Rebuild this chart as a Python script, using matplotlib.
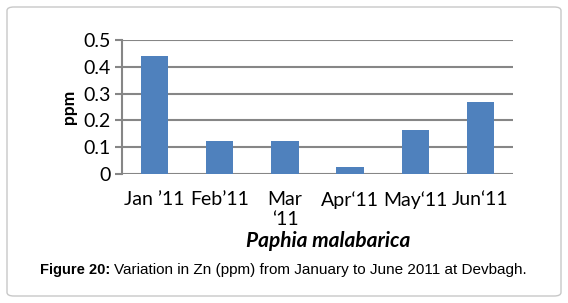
import matplotlib.pyplot as plt
from matplotlib.patches import FancyBboxPatch

months = ['Jan \u201911', 'Feb\u201911', 'Mar\n\u201811', 'Apr\u201811', 'May\u201811', 'Jun\u201811']
zn_ppm = [0.44, 0.125, 0.125, 0.025, 0.165, 0.27]
y_ticks = [0, 0.1, 0.2, 0.3, 0.4, 0.5]
y_labels = ['0', '0.1', '0.2', '0.3', '0.4', '0.5']

fig = plt.figure(figsize=(5.68, 3.03), dpi=100)

# outer rounded frame
frame = FancyBboxPatch((7 / 568, 7 / 303), 554 / 568, 289 / 303,
                       boxstyle='round,pad=0,rounding_size=0.012',
                       transform=fig.transFigure, fill=False,
                       edgecolor='#c8c8c8', linewidth=1.0)
fig.patches.append(frame)

ax = fig.add_axes([122 / 568, 1 - 174 / 303, (513 - 122) / 568, (174 - 40) / 303])
ax.bar(range(len(months)), zn_ppm, width=0.42, color='#4f81bd', zorder=3)
ax.set_xlim(-0.5, len(months) - 0.5)
ax.set_ylim(0, 0.5)
ax.set_yticks(y_ticks)
ax.set_yticklabels(y_labels, fontsize=14, family='Lato')
ax.set_xticks(range(len(months)))
ax.set_xticklabels(months, fontsize=14, family='Lato', linespacing=1.25)
ax.tick_params(axis='x', length=0, pad=12)
ax.tick_params(axis='y', length=5, width=1.5, color='#868686', pad=3)
ax.grid(axis='y', color='#868686', linewidth=1.5, zorder=0)
for s in ['top', 'right', 'bottom']:
    ax.spines[s].set_visible(False)
ax.spines['left'].set_color('#868686')
ax.spines['left'].set_linewidth(1.5)
ax.set_ylabel('ppm', fontsize=12.5, fontweight='bold', family='Lato', labelpad=5)

fig.text(328 / 568, 1 - 241 / 303, 'Paphia malabarica', ha='center', va='center',
         fontsize=15, fontweight='bold', style='italic', family='Lato')

# caption: bold "Figure 20:" then normal text right after it
cap = fig.text(40 / 568, 1 - 270 / 303, 'Figure 20:', ha='left', va='center',
               fontsize=10.5, fontweight='bold', family='Liberation Sans')
ax.annotate('Variation in Zn (ppm) from January to June 2011 at Devbagh.',
            xy=(1, 0.5), xycoords=cap, xytext=(3, 0), textcoords='offset points',
            ha='left', va='center', fontsize=11, family='Liberation Sans',
            annotation_clip=False)

fig.savefig('out.png', dpi=100)
